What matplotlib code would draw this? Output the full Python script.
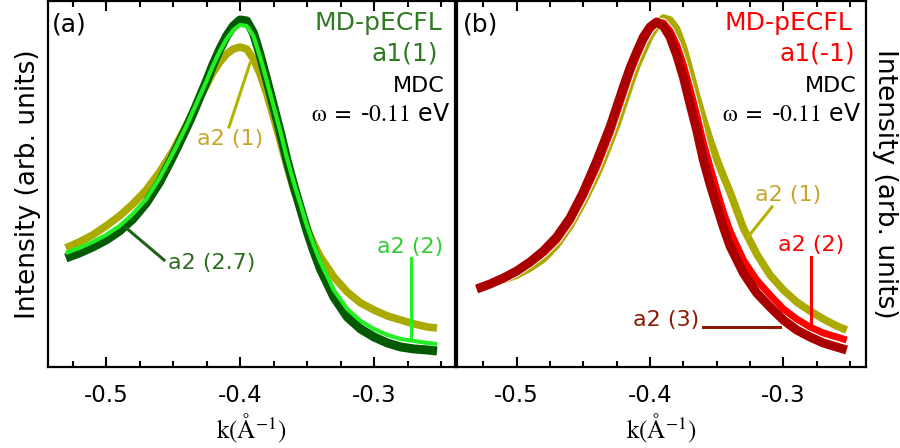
import numpy as np
import matplotlib
matplotlib.use('Agg')
import matplotlib.pyplot as plt
import matplotlib.patheffects as pe
from matplotlib.ticker import MultipleLocator

plt.rcParams['font.family'] = ['DejaVu Sans']
plt.rcParams['mathtext.fontset'] = 'stix'
plt.rcParams['axes.unicode_minus'] = False

# --- data (intensity in arb. units) ---
k_a = [-0.53, -0.52, -0.51, -0.50, -0.49, -0.48, -0.47, -0.46, -0.45, -0.44,
       -0.435, -0.43, -0.425, -0.42, -0.415, -0.41, -0.405, -0.40, -0.395, -0.39,
       -0.385, -0.38, -0.375, -0.37, -0.365, -0.36, -0.355, -0.35, -0.345, -0.34,
       -0.33, -0.32, -0.31, -0.30, -0.29, -0.28, -0.27, -0.26, -0.253]
a_dark = [109, 114, 120, 127, 136, 148, 164, 185, 211, 239,
          254, 270, 286, 303, 318, 331, 341, 347, 346, 334,
          312, 287, 261, 235, 207, 182, 159, 136, 116, 98,
          70, 50, 38, 30, 24, 20, 18, 17, 16]
a_light = [114, 119, 125, 132, 141, 153, 168, 189, 214, 241,
           256, 271, 286, 302, 316, 328, 337, 342, 341, 331,
           310, 286, 261, 236, 209, 185, 163, 141, 122, 105,
           77, 58, 46, 38, 32, 28, 26, 24, 23]
a_olive = [119, 125, 132, 141, 151, 163, 177, 195, 216, 242,
           255, 270, 282, 295, 305, 313, 318, 320, 318, 308,
           293, 273, 250, 226, 201, 178, 158, 139, 123, 110,
           90, 75, 64, 57, 51, 47, 43, 40, 39]

k_b = [-0.53, -0.52, -0.51, -0.50, -0.49, -0.48, -0.47, -0.46, -0.45, -0.44,
       -0.435, -0.43, -0.425, -0.42, -0.415, -0.41, -0.405, -0.40, -0.395, -0.39,
       -0.385, -0.38, -0.375, -0.37, -0.365, -0.36, -0.355, -0.35, -0.345, -0.34,
       -0.33, -0.32, -0.31, -0.30, -0.29, -0.28, -0.27, -0.26, -0.2525]
b_dark = [78, 83, 89, 96, 105, 116, 130, 149, 175, 206,
          223, 240, 260, 280, 299, 315, 330, 340, 345, 341,
          330, 312, 290, 263, 237, 207, 183, 161, 140, 121,
          94, 74, 60, 47, 37, 30, 24, 20, 17]
b_red = [78, 83, 88, 95, 104, 114, 127, 146, 171, 200,
         217, 234, 254, 274, 294, 311, 326, 338, 345, 344,
         336, 322, 302, 278, 252, 224, 200, 177, 155, 136,
         107, 87, 72, 58, 48, 40, 34, 30, 27]
b_olive = [79, 83, 87, 92, 99, 108, 122, 141, 165, 192,
           208, 225, 242, 262, 282, 301, 316, 331, 341, 349,
           347, 338, 320, 296, 271, 248, 227, 208, 191, 175,
           139, 113, 92, 77, 65, 56, 48, 41, 37]

tick_vals = [-0.5, -0.4, -0.3]
tick_labels = ['-0.5', '-0.4', '-0.3']

DKGREEN = '#035a03'
LTGREEN = '#22f022'
OLIVE = '#aaaa00'
DKRED = '#aa0000'
RED = '#ff0000'
XLABEL = r'$\mathrm{k}(\mathsf{\AA}^{\mathrm{-1}})$'
YLABEL = 'Intensity (arb. units)'
OMEGA = r'$\mathrm{\omega}\ =\ $' + '-' + r'$\mathrm{0.11}$ eV'


def setup_axis(ax, xlim):
    ax.set_xlim(xlim)
    ax.set_ylim(0, 366)
    ax.set_yticks([])
    ax.set_xticks(tick_vals)
    ax.set_xticklabels(tick_labels)
    ax.xaxis.set_minor_locator(MultipleLocator(0.025))
    ax.tick_params(which='both', direction='in', top=True, bottom=True,
                   width=1.5, labelsize=16.5, pad=12)
    ax.tick_params(which='major', length=7)
    ax.tick_params(which='minor', length=4.5)
    for s in ax.spines.values():
        s.set_linewidth(1.6)
    ax.set_xlabel(XLABEL, fontsize=18, labelpad=4)


def curve(ax, k, vals, color, lw, **kw):
    ax.plot(k, vals, color=color, lw=lw, solid_capstyle='butt',
            solid_joinstyle='round', **kw)


fig = plt.figure(figsize=(9, 4.48), dpi=100)
ax1 = fig.add_axes([48/900, 1-367/448, 407/900, 366/448])
ax2 = fig.add_axes([457/900, 1-367/448, 409/900, 366/448])

# --- panel (a) ---
curve(ax1, k_a, a_olive, OLIVE, 5.5)
curve(ax1, k_a, a_dark, DKGREEN, 6.5)
curve(ax1, k_a, a_light, LTGREEN, 3.0)
setup_axis(ax1, (-0.5433, -0.2396))
ax1.set_ylabel(YLABEL, fontsize=19, labelpad=5)

ax1.text(0.01, 0.935, '(a)', transform=ax1.transAxes, fontsize=18, va='center')
ax1.text(0.968, 0.940, 'MD-pECFL', transform=ax1.transAxes, fontsize=18,
         color='#2f7a22', ha='right', va='center')
ax1.text(0.958, 0.856, 'a1(1)', transform=ax1.transAxes, fontsize=18,
         color='#2f7a22', ha='right', va='center')
ax1.text(0.975, 0.768, 'MDC', transform=ax1.transAxes, fontsize=16,
         ha='right', va='center')
ax1.text(0.988, 0.692, OMEGA, transform=ax1.transAxes,
         fontsize=17, ha='right', va='center')

ax1.plot([-0.4082, -0.3925], [240, 304], color='#b4b400', lw=2.2)
ax1.text(-0.4075, 228, 'a2 (1)', fontsize=16, color='#c9a42c', ha='center', va='center')
ax1.plot([-0.4858, -0.4567], [140, 107], color='#1e6414', lw=2.2)
ax1.text(-0.4209, 104, 'a2 (2.7)', fontsize=16, color='#2f6e22', ha='center', va='center')
ax1.plot([-0.2724, -0.2724], [109, 29], color='#22f022', lw=2.2)
ax1.text(-0.2731, 120, 'a2 (2)', fontsize=16, color='#33cc33', ha='center', va='center')

# --- panel (b) ---
curve(ax2, k_b, b_olive, OLIVE, 5.5)
curve(ax2, k_b, b_red, RED, 5.0,
      path_effects=[pe.Stroke(linewidth=6.6, foreground='white'), pe.Normal()])
curve(ax2, k_b, b_dark, DKRED, 6.5)
setup_axis(ax2, (-0.5448, -0.2380))
ax2.yaxis.set_label_position('right')
ax2.set_ylabel(YLABEL, fontsize=19, rotation=-90, va='bottom', labelpad=4)

ax2.text(0.015, 0.935, '(b)', transform=ax2.transAxes, fontsize=18, va='center')
ax2.text(0.966, 0.940, 'MD-pECFL', transform=ax2.transAxes, fontsize=18,
         color=RED, ha='right', va='center')
ax2.text(0.973, 0.856, 'a1(-1)', transform=ax2.transAxes, fontsize=18,
         color=RED, ha='right', va='center')
ax2.text(0.978, 0.768, 'MDC', transform=ax2.transAxes, fontsize=16,
         ha='right', va='center')
ax2.text(0.988, 0.692, OMEGA, transform=ax2.transAxes,
         fontsize=17, ha='right', va='center')

ax2.plot([-0.3085, -0.3272], [160, 129], color='#b4b400', lw=2.2)
ax2.text(-0.2965, 172, 'a2 (1)', fontsize=16, color='#c9a42c', ha='center', va='center')
ax2.plot([-0.2792, -0.2792], [110, 42], color=RED, lw=2.2)
ax2.text(-0.2792, 122, 'a2 (2)', fontsize=16, color=RED, ha='center', va='center')
ax2.plot([-0.3602, -0.3025], [40, 40], color='#8b1a00', lw=2.2)
ax2.text(-0.388, 47, 'a2 (3)', fontsize=16, color='#8b1a00', ha='center', va='center')

fig.savefig('out.png', dpi=100)
